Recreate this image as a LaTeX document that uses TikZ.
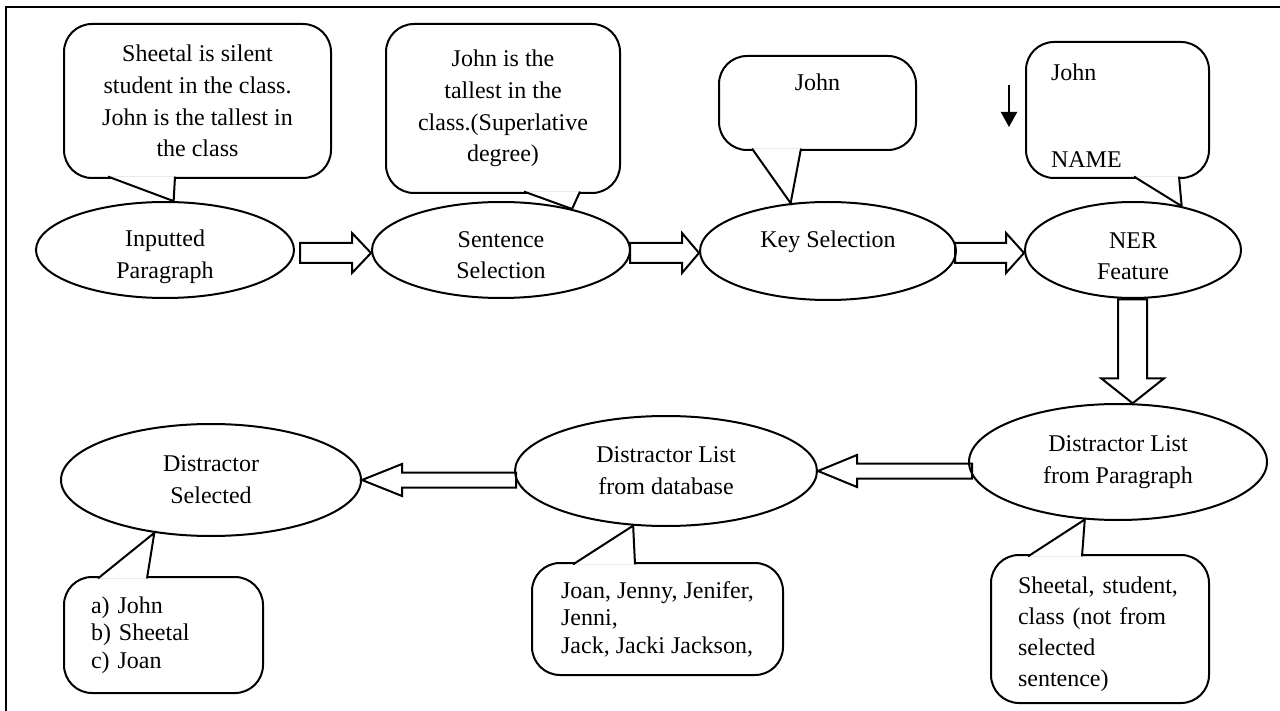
\documentclass[tikz,border=0pt]{standalone}
\usepackage{fontspec}
\setmainfont{Liberation Serif}
\usetikzlibrary{shapes.geometric,calc,arrows.meta}

\begin{document}
\begin{tikzpicture}[x=0.5pt,y=-0.5pt,line width=1pt,
    font=\fontsize{12}{15.85}\selectfont,
    stage/.style={ellipse,draw,inner sep=0pt,align=center},
    low/.style={execute at begin node=\rule{0pt}{14pt}},
    bubble/.style={rectangle,draw,rounded corners=14pt,outer sep=0pt,inner sep=0pt},
    tight/.style={font=\fontsize{12}{13.75}\selectfont},
    fatarrow/.style={draw,line join=miter}]
  \useasboundingbox (0,0) rectangle (1280,711);
  \draw[line width=1.2pt] (1280,7) -- (6,7) -- (6,711);

  \node[stage,minimum width=129pt,minimum height=48pt] (ip) at (165,250) {\rule{0pt}{15.2pt}Inputted\\Paragraph};
  \node[stage,minimum width=129pt,minimum height=48pt] (ss) at (501,250) {\rule{0pt}{13.2pt}Sentence\\Selection};
  \node[stage,minimum width=128pt,minimum height=49pt] (ks) at (828,251) {\rule[-12.2pt]{0pt}{12.2pt}Key Selection};
  \node[stage,minimum width=108pt,minimum height=48pt] (ner) at (1133,250) {\rule{0pt}{14.2pt}NER\\Feature};
  \node[stage,minimum width=149pt,minimum height=58pt] (dp) at (1118,462) {Distractor List\\from Paragraph};
  \node[stage,minimum width=151pt,minimum height=55pt] (db) at (666,471) {Distractor List\\from database};
  \node[stage,minimum width=150pt,minimum height=56pt] (sel) at (211,480) {Distractor\\Selected};

  \node[bubble,minimum width=133.5pt,minimum height=77pt,align=center] (c1) at (197.5,101)
    {Sheetal is silent\\student in the class.\\John is the tallest in\\the class};
  \node[bubble,minimum width=117pt,minimum height=84.5pt,align=center] (c2) at (503,108.5)
    {John is the\\tallest in the\\class.(Superlative\\degree)};
  \node[bubble,minimum width=98.5pt,minimum height=47pt,align=center] (c3) at (817.5,103) {John\\\strut};
  \node[bubble,low,minimum width=91.5pt,minimum height=68pt,text width=66.5pt,align=left] (c4) at (1117.5,110)
    {John\\[27.2pt]NAME};
  \node[bubble,low,minimum width=109pt,minimum height=74pt,text width=82pt,align=left,
    font=\fontsize{12}{15.5}\selectfont] (c5) at (1100,629)
    {Sheetal, student,\\class (not from\\selected\\sentence)};
  \node[bubble,tight,minimum width=125.5pt,minimum height=56pt,align=left] (c6) at (657.5,619)
    {Joan, Jenny, Jenifer,\\Jenni,\\Jack, Jacki Jackson,};
  \node[bubble,tight,minimum width=99.5pt,minimum height=58pt,text width=72.5pt,align=left] (c7) at (163.5,635)
    {a) John\\b) Sheetal\\c) Joan};

  \draw[fill=white] ($(c1.south west)+(44,-1.4)$) -- (ip.80) -- ($(c1.south west)+(111,-1.4)$);
  \draw[fill=white] ($(c2.south west)+(138,-1.4)$) -- (ss.30) -- ($(c2.south west)+(194,-1.4)$);
  \draw[fill=white] ($(c3.south west)+(33,-1.4)$) -- (ks.128) -- ($(c3.south west)+(82,-1.4)$);
  \draw[fill=white] ($(c4.south west)+(108,-1.4)$) -- (ner.42) -- ($(c4.south west)+(153,-1.4)$);
  \draw[fill=white] ($(c5.north west)+(37,1.4)$) -- (dp.240) -- ($(c5.north west)+(91,1.4)$);
  \draw[fill=white] ($(c6.north west)+(41,1.4)$) -- (db.239) -- ($(c6.north west)+(103,1.4)$);
  \draw[fill=white] ($(c7.north west)+(34,1.4)$) -- (sel.223) -- ($(c7.north west)+(83,1.4)$);

  \draw[fatarrow] ([yshift=-1.5pt]ss.west) -- ++(-19,-20) -- ++(0,10) -- ++(-52,0) -- ++(0,20) -- ++(52,0) -- ++(0,10) -- cycle;
  \draw[fatarrow] ([yshift=-1pt]ks.west) -- ++(-17,-20) -- ++(0,10) -- ++(-52,0) -- ++(0,20) -- ++(52,0) -- ++(0,10) -- cycle;
  \draw[fatarrow] ([yshift=-1.5pt]ner.west) -- ++(-18,-20) -- ++(0,10) -- ++(-51,0) -- ++(0,20) -- ++(51,0) -- ++(0,10) -- cycle;
  \draw[fatarrow] (dp.76) -- ++(-31.5,-25) -- ++(17,0) -- ++(0,-79) -- ++(29,0) -- ++(0,79) -- ++(17,0) -- cycle;
  \draw[fatarrow] (db.east) -- ++(39,-16) -- ++(0,8.5) -- ++(115,0) -- ++(0,15) -- ++(-115,0) -- ++(0,8.5) -- cycle;
  \draw[fatarrow] (sel.east) -- ++(40,-16) -- ++(0,8.5) -- ++(114,0) -- ++(0,15) -- ++(-114,0) -- ++(0,8.5) -- cycle;

  \coordinate (na) at (1009,85);
  \coordinate (nb) at (1009,127);
  \draw[-{Triangle[length=7.5pt,width=8pt]}] (na) -- (nb);
\end{tikzpicture}
\end{document}
